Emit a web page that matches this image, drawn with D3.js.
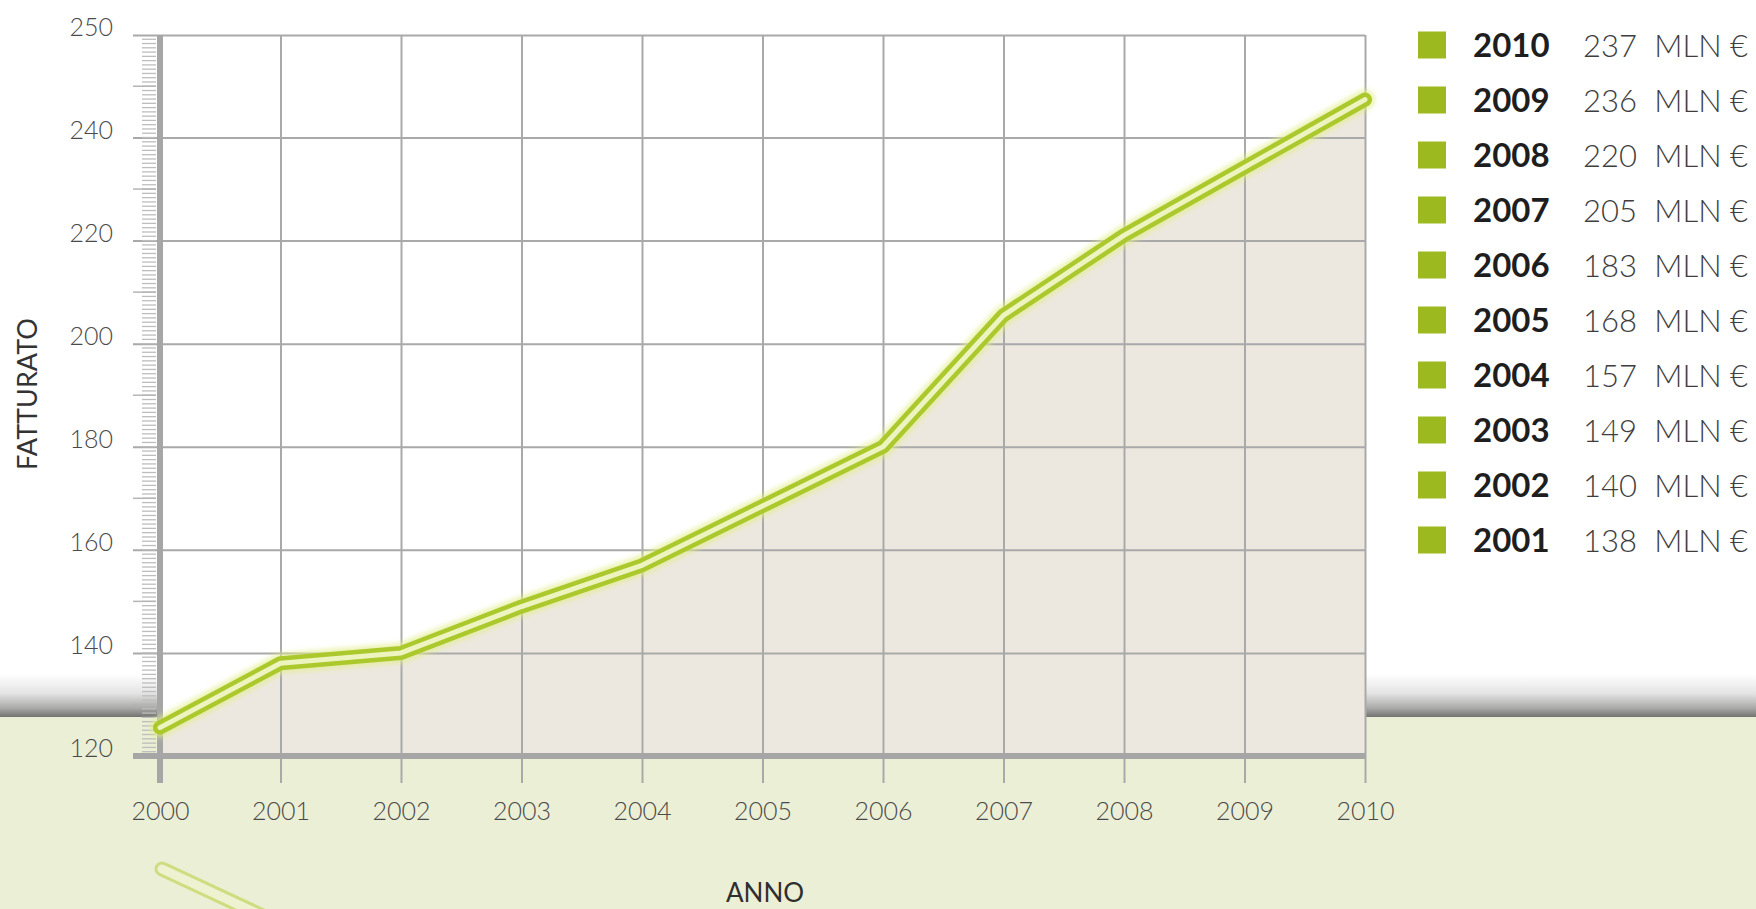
<!DOCTYPE html>
<html>
<head>
<meta charset="utf-8">
<script src="https://cdn.jsdelivr.net/npm/d3@7"></script>
<style>
  html, body { margin: 0; padding: 0; background: #ffffff; }
  svg { display: block; font-family: Lato, "Open Sans", "DejaVu Sans", sans-serif; }
  svg text { font-family: Lato, "Open Sans", "DejaVu Sans", sans-serif; }
</style>
</head>
<body>
<svg id="chart" width="1756" height="909"></svg>
<script>
// ---- data ----
const years = [2000, 2001, 2002, 2003, 2004, 2005, 2006, 2007, 2008, 2009, 2010];
const revenue = [125.5, 138, 140, 149, 157, 168.5, 180, 205.5, 221, 234.2, 243.7];
const yTickValues = [120, 140, 160, 180, 200, 220, 240, 250];
const legendYears = ["2010", "2009", "2008", "2007", "2006", "2005", "2004", "2003", "2002", "2001"];
const legendValues = ["237", "236", "220", "205", "183", "168", "157", "149", "140", "138"];
const legendUnit = "MLN €";
const yTitle = "FATTURATO";
const xTitle = "ANNO";

// ---- layout ----
const W = 1756, H = 909;
const plotL = 160, plotR = 1365, plotT = 35, plotB = 756;
const gridL = 133;
const tickBottom = 783;
const FONT = 'Lato, "Open Sans", "DejaVu Sans", sans-serif';

const svg = d3.select("#chart");
const defs = svg.append("defs");

// background: white top, shadow band, light green bottom
const shadow = defs.append("linearGradient").attr("id", "shadow")
  .attr("x1", 0).attr("y1", 0).attr("x2", 0).attr("y2", 1);
shadow.append("stop").attr("offset", "0%").attr("stop-color", "#ffffff");
shadow.append("stop").attr("offset", "45%").attr("stop-color", "#e4e4e4");
shadow.append("stop").attr("offset", "80%").attr("stop-color", "#a8a8a6");
shadow.append("stop").attr("offset", "100%").attr("stop-color", "#727270");

const blur = defs.append("filter").attr("id", "glow")
  .attr("x", "-5%").attr("y", "-5%").attr("width", "110%").attr("height", "110%");
blur.append("feGaussianBlur").attr("stdDeviation", 2.5);

svg.append("rect").attr("x", 0).attr("y", 0).attr("width", W).attr("height", H).attr("fill", "#ffffff");
svg.append("rect").attr("x", 0).attr("y", 674).attr("width", W).attr("height", 43).attr("fill", "url(#shadow)");
svg.append("rect").attr("x", 0).attr("y", 717).attr("width", W).attr("height", H - 717).attr("fill", "#ebefd6");

// ---- scales ----
const x = d3.scaleLinear().domain([2000, 2010]).range([plotL, plotR]);
const y = d3.scaleLinear().domain([120, 240, 250]).range([plotB, 137.5, plotT]);

// plot background
svg.append("rect")
  .attr("x", x(2000)).attr("y", y(250))
  .attr("width", x(2010) - x(2000)).attr("height", y(120) - y(250))
  .attr("fill", "#ffffff");

const data = years.map((yr, i) => ({ year: yr, value: revenue[i] }));

// area
const area = d3.area().x(d => x(d.year)).y0(y(120)).y1(d => y(d.value));
svg.append("path").datum(data).attr("d", area).attr("fill", "#ece8df");

// vertical grid lines
const xGrid = svg.append("g").attr("transform", `translate(0,${plotB})`)
  .call(d3.axisBottom(x).tickValues(years).tickSize(-(plotB - plotT)).tickFormat(""));
xGrid.select(".domain").remove();
xGrid.selectAll("line").attr("stroke", "#a9a9a9").attr("stroke-width", 2);

// horizontal grid lines + y labels
const yAxis = svg.append("g").attr("transform", `translate(${gridL},0)`)
  .call(d3.axisLeft(y).tickValues(yTickValues).tickSize(-(plotR - gridL)).tickPadding(20).tickFormat(d3.format("d")));
yAxis.attr("font-family", FONT).attr("font-size", 25);
yAxis.select(".domain").remove();
yAxis.selectAll("line").attr("stroke", "#a9a9a9").attr("stroke-width", 2);
yAxis.selectAll("text")
  .attr("dy", "0.02em")
  .attr("fill", "#4a4a4a")
  .style("font-family", FONT)
  .style("font-size", "25px")
  .style("font-weight", 300);

// minor ticks along y axis
const minorVals = [];
for (let k = 0; k <= 144; k++) minorVals.push(120 + k * 10 / 12);
for (let k = 1; k < 24; k++) minorVals.push(240 + k * 10 / 24);
const mediumVals = [130, 150, 170, 190, 210, 230, 245];
svg.append("g").selectAll("line").data(minorVals).join("line")
  .attr("x1", 142).attr("x2", 156)
  .attr("y1", d => y(d)).attr("y2", d => y(d))
  .attr("stroke", "#bdbdbd").attr("stroke-width", 1.3);
svg.append("g").selectAll("line").data(mediumVals).join("line")
  .attr("x1", gridL).attr("x2", 156)
  .attr("y1", d => y(d)).attr("y2", d => y(d))
  .attr("stroke", "#b5b5b5").attr("stroke-width", 1.5);

// x axis ticks below + labels
const xAxis = svg.append("g").attr("transform", `translate(0,${plotB})`)
  .call(d3.axisBottom(x).tickValues(years).tickSize(tickBottom - plotB).tickPadding(19).tickFormat(d3.format("d")));
xAxis.attr("font-family", FONT).attr("font-size", 25);
xAxis.select(".domain").remove();
xAxis.selectAll("line").attr("stroke", "#a9a9a9").attr("stroke-width", 2);
xAxis.selectAll("text")
  .attr("fill", "#4a4a4a")
  .style("font-family", FONT)
  .style("font-size", "25px")
  .style("font-weight", 300);

// thick axis bars
svg.append("line")
  .attr("x1", x(2000)).attr("x2", x(2000))
  .attr("y1", y(250)).attr("y2", tickBottom)
  .attr("stroke", "#a6a6a6").attr("stroke-width", 6);
svg.append("line")
  .attr("x1", gridL).attr("x2", x(2010))
  .attr("y1", y(120)).attr("y2", y(120))
  .attr("stroke", "#a6a6a6").attr("stroke-width", 6);

// decorative stroke bottom-left
const deco = d3.line()([[x(2000) + 2, 869], [x(2000) + 107, 918]]);
svg.append("path").attr("d", deco).attr("fill", "none")
  .attr("stroke", "#cfdd80").attr("stroke-width", 15).attr("stroke-linecap", "round");
svg.append("path").attr("d", deco).attr("fill", "none")
  .attr("stroke", "#eef2d0").attr("stroke-width", 9).attr("stroke-linecap", "round");

// data line (glow + outer + inner)
const line = d3.line().x(d => x(d.year)).y(d => y(d.value));
svg.append("path").datum(data).attr("d", line).attr("fill", "none")
  .attr("stroke", "#e2ee8a").attr("stroke-opacity", 0.7).attr("stroke-width", 20)
  .attr("stroke-linejoin", "round").attr("stroke-linecap", "round")
  .attr("filter", "url(#glow)");
svg.append("path").datum(data).attr("d", line).attr("fill", "none")
  .attr("stroke", "#abc82c").attr("stroke-width", 14)
  .attr("stroke-linejoin", "round").attr("stroke-linecap", "round");
svg.append("path").datum(data).attr("d", line).attr("fill", "none")
  .attr("stroke", "#eef4bf").attr("stroke-width", 5)
  .attr("stroke-linejoin", "round").attr("stroke-linecap", "round");

// axis titles
svg.append("text")
  .attr("transform", "translate(37,394) rotate(-90)")
  .attr("text-anchor", "middle")
  .attr("fill", "#333333")
  .style("font-size", "27px")
  .text(yTitle);
svg.append("text")
  .attr("x", 765).attr("y", 902)
  .attr("text-anchor", "middle")
  .attr("fill", "#2f2f2f")
  .style("font-size", "26px")
  .text(xTitle);

// legend
const legend = svg.append("g");
const rowY = d3.scalePoint().domain(legendYears).range([45, 45 + 9 * 55]);
const rows = legend.selectAll("g").data(legendYears).join("g")
  .attr("transform", d => `translate(0,${rowY(d)})`);
rows.append("rect")
  .attr("x", 1418).attr("y", -13.5).attr("width", 28).attr("height", 27)
  .attr("fill", "#9cb91f");
rows.append("text")
  .attr("x", 1473).attr("y", 12)
  .attr("fill", "#1e1e1e")
  .style("font-size", "33px").style("font-weight", 700)
  .text(d => d);
rows.append("text")
  .attr("x", 1637).attr("y", 12)
  .attr("text-anchor", "end")
  .attr("fill", "#3e3e3e")
  .style("font-size", "31px").style("font-weight", 300)
  .text((d, i) => legendValues[i]);
rows.append("text")
  .attr("x", 1748).attr("y", 12)
  .attr("text-anchor", "end")
  .attr("fill", "#3e3e3e")
  .style("font-size", "31px").style("font-weight", 300)
  .text(legendUnit);
</script>
</body>
</html>
